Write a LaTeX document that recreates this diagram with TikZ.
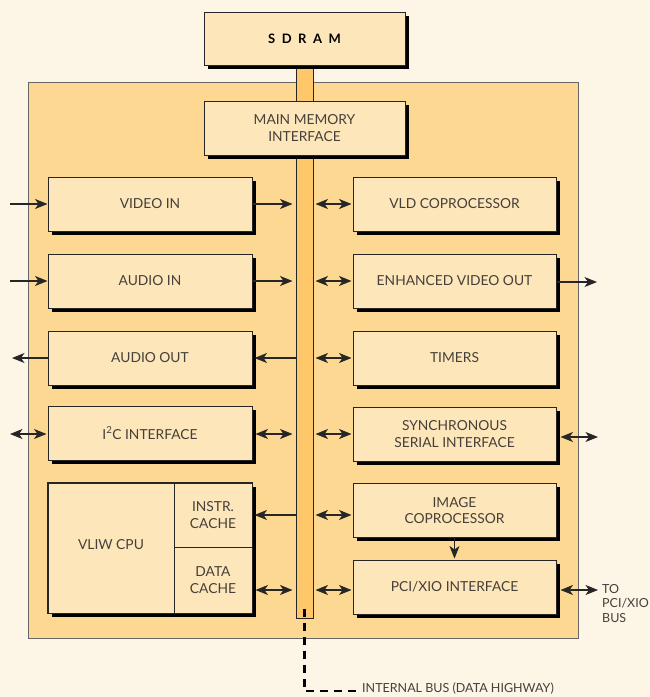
\documentclass[tikz,border=0pt]{standalone}
\usepackage{fontspec}
\setmainfont{Lato}
\usetikzlibrary{arrows.meta,shadows,calc}
\definecolor{bg}{HTML}{FDF5E6}
\definecolor{chip}{HTML}{FDD893}
\definecolor{boxf}{HTML}{FEE6BB}
\definecolor{busf}{HTML}{FDC76A}
\definecolor{txt}{HTML}{45403A}
\begin{document}
\begin{tikzpicture}[x=1pt,y=-1pt,
  blk/.style={draw=black!85, fill=boxf, line width=1pt, inner sep=0pt, align=center,
    text=txt, font=\fontsize{13.8}{16.5}\selectfont,
    drop shadow={shadow xshift=3.5pt, shadow yshift=-3.5pt, fill=black, opacity=1}},
  lbox/.style={blk, minimum width=204pt, minimum height=54pt},
  rbox/.style={blk, minimum width=203pt, minimum height=54pt},
  sub/.style={draw=black!85, fill=boxf, line width=1pt, inner sep=0pt, align=center, text=txt, font=\fontsize{13.8}{16.5}\selectfont},
  tipk/.tip={Stealth[length=12.5pt,width=10pt,inset=3.5pt]},
  arr/.style={-tipk, line width=1.1pt, draw=black!85},
  darr/.style={tipk-tipk, line width=1.1pt, draw=black!85},
  lbl/.style={text=txt, inner sep=0pt, align=left}]
\useasboundingbox (0,0) rectangle (650,697);
\fill[bg] (0,0) rectangle (650,697);
% chip
\draw[fill=chip, draw=black!60, line width=0.8pt] (28,82) rectangle (578,638);
% bus
\node[draw=black!85, fill=busf, line width=1pt, minimum width=17pt, minimum height=553pt, inner sep=0pt] (bus) at (304.5,341.5) {};
% top boxes
\node[blk, minimum width=201pt, minimum height=53pt, font=\fontsize{13}{15}\selectfont\bfseries\addfontfeature{LetterSpace=50}, text=black] (sdram) at (304.5,38.5) {SDRAM};
\node[blk, minimum width=201pt, minimum height=54pt] (mmi) at (304.5,128) {MAIN MEMORY\\INTERFACE};
% left boxes
\node[lbox] (vin)  at (150,204) {VIDEO IN};
\node[lbox] (ain)  at (150,281) {AUDIO IN};
\node[lbox] (aout) at (150,358) {AUDIO OUT};
\node[lbox] (iic)  at (150,433) {I\textsuperscript{2}C INTERFACE};
\node[lbox, minimum height=130pt] (cpu) at (150,548) {};
\node[sub, minimum width=78pt, minimum height=64pt] (icache) at (213,515) {INSTR.\\CACHE};
\node[sub, minimum width=78pt, minimum height=66pt] (dcache) at (213,580) {DATA\\CACHE};
\node[lbl, font=\fontsize{13.8}{16.5}\selectfont] (cpulbl) at (111,545) {VLIW CPU};
\draw[draw=black!85, line width=1pt] (cpu.north west) rectangle (cpu.south east);
% right boxes
\node[rbox] (vld)  at (454.5,204) {VLD COPROCESSOR};
\node[rbox] (evo)  at (454.5,281) {ENHANCED VIDEO OUT};
\node[rbox] (tim)  at (454.5,358) {TIMERS};
\node[rbox] (ssi)  at (454.5,434) {SYNCHRONOUS\\SERIAL INTERFACE};
\node[rbox] (img)  at (454.5,510.5) {IMAGE\\COPROCESSOR};
\node[rbox] (pci)  at (454.5,587) {PCI/XIO INTERFACE};
% external coordinates
\coordinate (vinx) at (10,204);
\coordinate (ainx) at (10,281);
\coordinate (aoutx) at (12,358);
\coordinate (iicx) at (10,434);
\coordinate (evox) at (597,282);
\coordinate (ssix) at (598,437);
\coordinate (pcix) at (598,590);
% left connectors
\draw[arr] (vinx) -- (vin.west);
\draw[arr] (ainx) -- (ain.west);
\draw[arr] (aout.west) -- (aoutx);
\draw[darr] (iicx) -- ([xshift=-1pt]iic.west |- iicx);
\draw[arr] (vin.east) -- ([xshift=-3pt]bus.west |- vin.east);
\draw[arr] (ain.east) -- ([xshift=-3pt]bus.west |- ain.east);
\draw[arr] (bus.west |- aout.east) -- ([xshift=2pt]aout.east);
\draw[darr] ([xshift=3pt]iic.east |- iicx) -- ([xshift=-3pt]bus.west |- iicx);
\draw[arr] (bus.west |- icache.east) -- ([xshift=2pt]icache.east);
\draw[darr] ([xshift=3pt]dcache.east |- pcix) -- ([xshift=-3pt]bus.west |- pcix);
% right connectors
\draw[darr] ([xshift=2pt]bus.east |- vld.west) -- ([xshift=-1pt]vld.west);
\draw[darr] ([xshift=2pt]bus.east |- evo.west) -- ([xshift=-1pt]evo.west);
\draw[darr] ([xshift=2pt]bus.east |- tim.west) -- ([xshift=-1pt]tim.west);
\draw[darr] ([xshift=2pt]bus.east |- iicx) -- ([xshift=-1pt]ssi.west |- iicx);
\draw[darr] ([xshift=2pt]bus.east |- icache.east) -- ([xshift=-1pt]img.west |- icache.east);
\draw[darr] ([xshift=2pt]bus.east |- pcix) -- ([xshift=-1pt]pci.west |- pcix);
\draw[arr] (img.south) -- ([yshift=1pt]pci.north);
\draw[arr] (evo.east |- evox) -- (evox);
\draw[darr] ([xshift=4pt]ssi.east |- ssix) -- (ssix);
\draw[darr] ([xshift=4pt]pci.east |- pcix) -- (pcix);
% labels
\node[lbl, anchor=north west, font=\fontsize{12.5}{14.5}\selectfont] (tolbl) at (602,584) {TO\\PCI/XIO\\BUS};
% internal bus dashed
\coordinate (dtop) at ($(bus.south)+(0,-10)$);
\coordinate (dcorner) at (304.5,691);
\coordinate (dend) at (358,691);
\draw[line width=2.5pt, dash pattern=on 8pt off 6pt, draw=black] (dtop) -- (dcorner) -- (dend);
\node[lbl, anchor=base west, font=\fontsize{12.5}{15}\selectfont] (iblbl) at (362,692.5) {INTERNAL BUS (DATA HIGHWAY)};
\end{tikzpicture}
\end{document}
